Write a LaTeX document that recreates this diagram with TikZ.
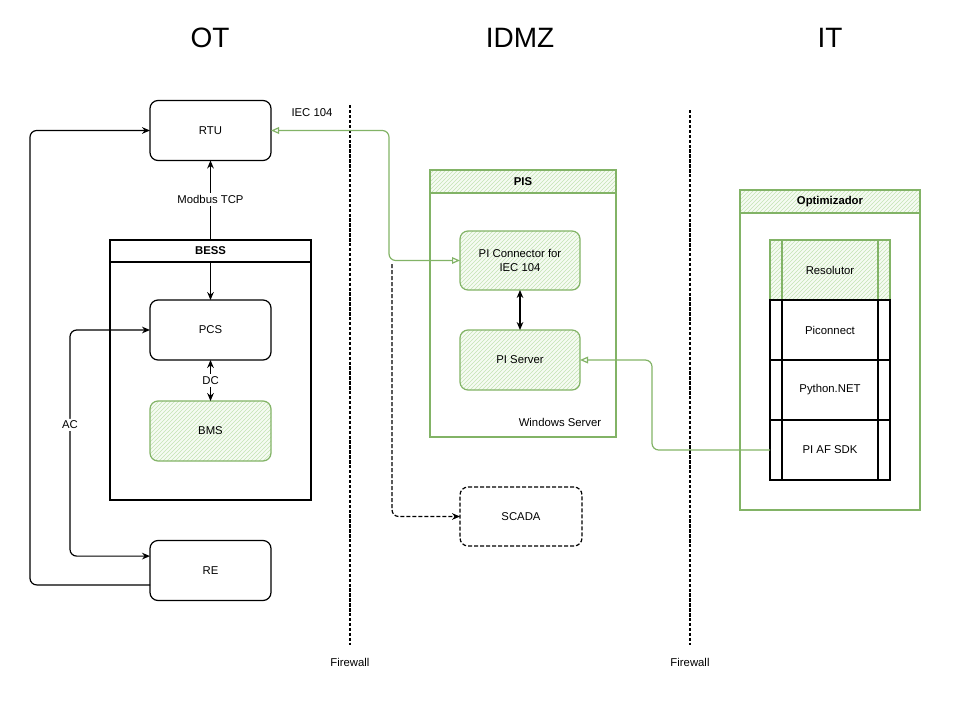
\documentclass[tikz,border=0pt]{standalone}
\usepackage{fontspec}
\setmainfont{Liberation Sans}
\usetikzlibrary{arrows.meta,patterns,calc}
\definecolor{grn}{HTML}{82B366}
\definecolor{grnhatch}{HTML}{C4E3B4}
\definecolor{grnfill}{HTML}{F6FBF3}
\begin{document}
\begin{tikzpicture}[x=0.75pt,y=-0.75pt,
  font=\fontsize{8.5}{10}\selectfont,
  rbox/.style={draw, line width=0.9pt, rounded corners=6pt, minimum width=90.75pt,
    minimum height=45pt, align=center, inner sep=2pt, outer sep=0pt},
  gbox/.style={rbox, draw=grn, preaction={fill=grnfill}, pattern=north east lines, pattern color=grnhatch},
  cont/.style={draw, line width=0.8pt, outer sep=0pt, inner sep=0pt},
  gcont/.style={cont, draw=grn},
  hdr/.style={draw, line width=0.8pt, fill=white, outer sep=0pt, inner sep=0pt, font=\fontsize{8.5}{10}\selectfont\bfseries},
  ghdr/.style={hdr, draw=grn, preaction={fill=grnfill}, pattern=north east lines, pattern color=grnhatch},
  proc/.style={draw=#1, line width=0.8pt, minimum width=90pt, minimum height=45pt, outer sep=0pt, inner sep=0pt,
    path picture={\draw[#1, line width=0.8pt]
      ([xshift=9pt]path picture bounding box.north west) -- ([xshift=9pt]path picture bounding box.south west)
      ([xshift=-9pt]path picture bounding box.north east) -- ([xshift=-9pt]path picture bounding box.south east);}},
  conn/.style={draw, line width=0.9pt},
  gconn/.style={draw=grn, line width=0.9pt, rounded corners=5pt},
  lbl/.style={fill=white, inner sep=1.5pt},
  tip/.tip={Stealth[length=6pt,width=5pt]},
  otip/.tip={Triangle[open,length=6pt,width=5pt]},
  fw/.style={line width=1pt, dash pattern=on 2.5pt off 1.2pt},
  title/.style={font=\fontsize{21}{24}\selectfont}
]
\useasboundingbox (0,0) rectangle (960,700);

% titles
\node[title] (tOT) at (210,38) {OT};
\node[title] (tIDMZ) at (520,38) {IDMZ};
\node[title] (tIT) at (830,38) {IT};

% firewalls
\draw[fw] (350,105) -- (350,645);
\draw[fw] (690,110) -- (690,645);
\node (fw1) at (350,662) {Firewall};
\node (fw2) at (690,662) {Firewall};

% OT side
\node[rbox] (rtu) at (210.5,130.5) {RTU};
\node[cont, minimum width=150.75pt, minimum height=195pt] (bess) at (210.5,370) {};
\node[rbox] (pcs) at (210.5,330) {PCS};
\node[gbox] (bms) at (210.5,431) {BMS};
\node[rbox] (re) at (210.5,570.5) {RE};
\node (iec) at (312,113) {IEC 104};

\draw[conn, tip-tip] (rtu.south) -- node[lbl, pos=0.28] {Modbus TCP} (pcs.north);
\node[hdr, minimum width=150.75pt, minimum height=16.5pt] (besshead) at (210.5,251) {BESS};
\draw[conn, tip-tip] (pcs.south) -- node[lbl] {DC} (bms.north);

\coordinate (reA) at ($(re.north west)!0.26!(re.south west)$);
\coordinate (reB) at ($(re.north west)!0.74!(re.south west)$);
\draw[conn, tip-tip, rounded corners=5pt] (pcs.west) -- ++(-80,0) |- node[lbl, pos=0.21] {AC} (reA);
\draw[conn, -tip, rounded corners=5pt] (reB) -- ++(-120,0) |- (rtu.west);

% IDMZ
\node[gcont, minimum width=139.5pt, minimum height=200.25pt] (pis) at (523,303.5) {};
\node[ghdr, minimum width=139.5pt, minimum height=17.25pt] (pishead) at (523,181.5) {PIS};
\node[gbox, minimum width=90pt, minimum height=44.25pt] (picon) at (520,260.5) {PI Connector for\\IEC 104};
\node[gbox, minimum width=90pt, minimum height=45pt] (piserver) at (520,360) {PI Server};
\node (winsrv) at (560,422) {Windows Server};
\node[rbox, dash pattern=on 3pt off 1.5pt, minimum width=91.5pt, minimum height=44.25pt] (scada) at (521,516.5) {SCADA};

\draw[conn, tip-tip] (picon.south) -- (piserver.north);
\draw[gconn, otip-otip] (rtu.east) -- ++(118,0) |- (picon.west);
\coordinate (dstart) at (392,264);
\draw[conn, dash pattern=on 3pt off 1.5pt, -tip, rounded corners=5pt] (dstart) |- (scada.west);

% IT
\node[gcont, minimum width=135pt, minimum height=240pt] (opt) at (830,350) {};
\node[ghdr, minimum width=135pt, minimum height=17.25pt] (opthead) at (830,201.5) {Optimizador};
\node[proc=grn, preaction={fill=grnfill}, pattern=north east lines, pattern color=grnhatch] (resol) at (830,270) {Resolutor};
\node[proc=black, fill=white] (picnx) at (830,330) {Piconnect};
\node[proc=black, fill=white] (pynet) at (830,390) {Python.NET};
\node[proc=black, fill=white] (afsdk) at (830,450) {PI AF SDK};

\draw[gconn, -otip] (afsdk.west) -- ++(-118,0) |- (piserver.east);
\end{tikzpicture}
\end{document}
